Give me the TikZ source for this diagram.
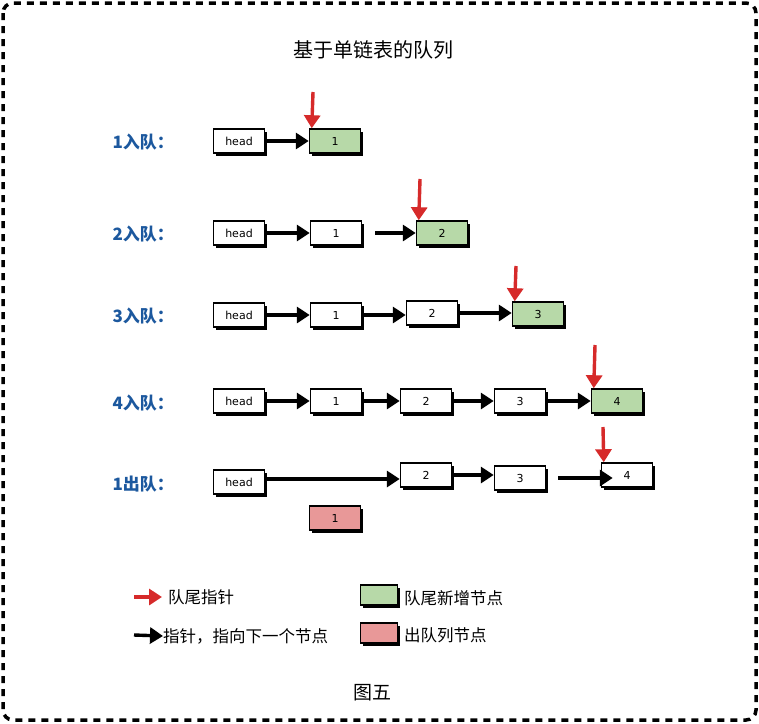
\documentclass[tikz,border=0pt]{standalone}
\usepackage{fontspec}
\setmainfont{DejaVu Sans}
\newfontfamily\cjk{Noto Sans CJK SC}
\usetikzlibrary{arrows.meta,shadows}

\definecolor{tailred}{RGB}{214,42,42}
\definecolor{newgreen}{RGB}{183,217,168}
\definecolor{outpink}{RGB}{232,152,152}
\definecolor{rowblue}{RGB}{28,88,158}

\tikzset{
	cell/.style={draw, line width=1.5pt, fill=white, minimum width=51pt, minimum height=24pt, inner sep=0pt,
		font=\fontsize{11}{11}\selectfont,
		drop shadow={shadow xshift=2.5pt, shadow yshift=-2.5pt, fill=black, opacity=1}},
	nextptr/.style={line width=3.4pt, -{Triangle[length=13pt,width=16pt]}},
	tailptr/.style={tailred, line width=3.4pt, -{Triangle[length=13pt,width=16pt]}},
	rowlabel/.style={text=rowblue, anchor=west, font=\cjk\bfseries\fontsize{17}{17}\selectfont},
	legendtext/.style={anchor=west, inner sep=0pt, font=\cjk\fontsize{16.5}{16.5}\selectfont}
}

\begin{document}
\begin{tikzpicture}[x=1pt,y=-1pt]
		\useasboundingbox (0,0) rectangle (759,723);

		% Dashed frame round the whole picture
		\draw[line width=3.5pt, dash pattern=on 7pt off 6pt, rounded corners=10pt] (3,3) rectangle (756,720);

		% Title and caption
		\node[font=\cjk\fontsize{20}{20}\selectfont] (title) at (373,50) {基于单链表的队列};
		\node[font=\cjk\fontsize{19}{19}\selectfont] (caption) at (372,693) {图五};

		% Row labels
		\node[rowlabel] (lab1) at (109,142) {1入队：};
		\node[rowlabel] (lab2) at (109,234) {2入队：};
		\node[rowlabel] (lab3) at (109,316) {3入队：};
		\node[rowlabel] (lab4) at (109,403) {4入队：};
		\node[rowlabel] (lab5) at (109,484) {1出队：};

		% Row 1: enqueue 1
		\node[cell] (h1) at (239,141) {head};
		\node[cell, fill=newgreen] (g1) at (335,141) {1};
		\draw[nextptr] (h1) -- (g1);
		\coordinate (t1) at (313,92);
		\draw[tailptr] (t1) -- ([xshift=3pt]g1.north west);

		% Row 2: enqueue 2
		\node[cell] (h2) at (239,233) {head};
		\node[cell] (n21) at (336,233) {1};
		\node[cell, fill=newgreen] (g22) at (442,233) {2};
		\draw[nextptr] (h2) -- (n21);
		\draw[nextptr] ([xshift=13pt]n21.east) -- (g22);
		\coordinate (t2) at (420,179);
		\draw[tailptr] (t2) -- ([xshift=3pt]g22.north west);

		% Row 3: enqueue 3
		\node[cell] (h3) at (239,315) {head};
		\node[cell] (n31) at (336,315) {1};
		\node[cell] (n32) at (432,313) {2};
		\node[cell, fill=newgreen] (g33) at (538,314) {3};
		\draw[nextptr] (h3) -- (n31);
		\draw[nextptr] (n31.east) -- (n31.east -| n32.west);
		\draw[nextptr] (n32.east) -- (n32.east -| g33.west);
		\coordinate (t3) at (516,266);
		\draw[tailptr] (t3) -- ([xshift=3pt]g33.north west);

		% Row 4: enqueue 4
		\node[cell] (h4) at (239,401) {head};
		\node[cell] (n41) at (336,401) {1};
		\node[cell] (n42) at (426,401) {2};
		\node[cell] (n43) at (520,401) {3};
		\node[cell, fill=newgreen] (g44) at (617,401) {4};
		\draw[nextptr] (h4) -- (n41);
		\draw[nextptr] (n41) -- (n42);
		\draw[nextptr] (n42) -- (n43);
		\draw[nextptr] (n43) -- (g44);
		\coordinate (t4) at (595,345);
		\draw[tailptr] (t4) -- ([xshift=3pt]g44.north west);

		% Row 5: dequeue 1
		\node[cell] (h5) at (239,482) {head};
		\node[cell] (n52) at (426,475) {2};
		\node[cell] (n53) at (520,478) {3};
		\node[cell] (n54) at (627,475) {4};
		\node[cell, fill=outpink] (out1) at (335,518) {1};
		\coordinate (h5out) at (266,479);
		\draw[nextptr] (h5out) -- (h5out -| n52.west);
		\draw[nextptr] (n52.east) -- (n52.east -| n53.west);
		\draw[nextptr] ([xshift=12pt]n53.east) -- ([xshift=12pt]n53.east -| n54.west);
		\coordinate (t5) at (603,427);
		\draw[tailptr] (t5) -- ([xshift=3pt]n54.north west);

		% Legend
		\coordinate (lt0) at (134,597);
		\node[legendtext] (ltail) at (168,597) {队尾指针};
		\draw[tailptr] (lt0) -- ([xshift=-6pt]ltail.west);
		\coordinate (ln0) at (134,635);
		\node[legendtext] (lnext) at (163,636) {指针，指向下一个节点};
		\draw[nextptr] (ln0) -- (lnext.west);
		\node[cell, fill=newgreen, minimum width=37pt, minimum height=20pt] (lnew) at (379,595) {};
		\node[legendtext] (lnewtext) at (404,598) {队尾新增节点};
		\node[cell, fill=outpink, minimum width=37pt, minimum height=20pt] (lout) at (379,633) {};
		\node[legendtext] (louttext) at (404,635) {出队列节点};
	\end{tikzpicture}
\end{document}
